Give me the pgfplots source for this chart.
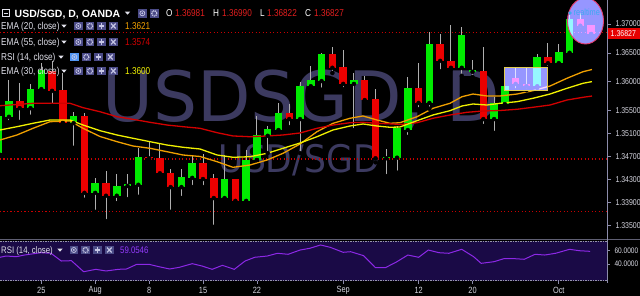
\documentclass[border=0pt]{standalone}
\usepackage{pgfplots}
\usepackage{pgfplotstable}
\pgfplotsset{compat=1.18}
\usepackage{fontspec}
\setmainfont{Liberation Sans}
\newfontfamily\nf[FakeStretch=0.82]{Liberation Sans}
\newfontfamily\wm{DejaVu Sans}

\definecolor{upgreen}{RGB}{0,235,0}
\definecolor{dnred}{RGB}{235,0,0}
\definecolor{wickgray}{RGB}{175,175,175}
\definecolor{emaA}{RGB}{240,160,0}
\definecolor{emaB}{RGB}{210,0,0}
\definecolor{emaC}{RGB}{240,240,0}
\definecolor{dotred}{RGB}{200,0,0}
\definecolor{wmcol}{RGB}{60,58,96}
\definecolor{axisgray}{RGB}{140,140,170}
\definecolor{lblgray}{RGB}{215,215,225}
\definecolor{txt}{RGB}{225,225,235}
\definecolor{iconbg}{RGB}{75,75,135}
\definecolor{icgly}{RGB}{200,200,230}
\definecolor{rsibg}{RGB}{26,10,70}
\definecolor{rsiline}{RGB}{140,40,230}
\definecolor{rsival}{RGB}{150,60,255}
\definecolor{ovl}{RGB}{150,150,255}
\definecolor{pricered}{RGB}{230,0,0}
\definecolor{valred}{RGB}{225,30,30}
\definecolor{sepgray}{RGB}{95,95,115}
\definecolor{dashgray}{RGB}{150,150,170}
\definecolor{boxyel}{RGB}{225,205,80}
\definecolor{ellpink}{RGB}{230,60,110}
\definecolor{rtcyan}{RGB}{60,170,240}
\definecolor{hlblue}{RGB}{80,150,245}

\pgfplotstableread{
i o h l c
0 1.3476 1.3546 1.3473 1.3540
1 1.3539 1.3603 1.3530 1.3566
3 1.3554 1.3596 1.3539 1.3587
4 1.3587 1.3632 1.3582 1.3620
7 1.3528 1.3547 1.3485 1.3540
9 1.3407 1.3433 1.3374 1.3424
11 1.3402 1.3440 1.3389 1.3419
12 1.3419 1.3440 1.3396 1.3422
13 1.3421 1.3485 1.3400 1.3469
17 1.3417 1.3448 1.3398 1.3435
18 1.3433 1.3473 1.3417 1.3459
21 1.3398 1.3473 1.3393 1.3431
23 1.3393 1.3481 1.3391 1.3464
24 1.3464 1.3540 1.3464 1.3507
25 1.3506 1.3523 1.3476 1.3518
26 1.3516 1.3563 1.3514 1.3546
28 1.3535 1.3599 1.3476 1.3592
29 1.3592 1.3627 1.3589 1.3603
30 1.3601 1.3650 1.3586 1.3648
33 1.3596 1.3615 1.3516 1.3603
36 1.3467 1.3483 1.3436 1.3469
37 1.3468 1.3523 1.3442 1.3520
38 1.3516 1.3608 1.3504 1.3589
40 1.3563 1.3686 1.3553 1.3665
43 1.3624 1.3695 1.3610 1.3681
44 1.3617 1.3638 1.3608 1.3620
46 1.3535 1.3573 1.3511 1.3563
47 1.3561 1.3603 1.3556 1.3592
50 1.3592 1.3648 1.3589 1.3643
52 1.3632 1.3665 1.3631 1.3651
53 1.3650 1.3716 1.3646 1.3709
}\up

\pgfplotstableread{
i o h l c
2 1.3566 1.3598 1.3530 1.3554
5 1.3618 1.3636 1.3558 1.3584
6 1.3586 1.3615 1.3528 1.3528
8 1.3540 1.3546 1.3395 1.3407
10 1.3424 1.3445 1.3358 1.3402
14 1.3469 1.3495 1.3464 1.3467
15 1.3467 1.3492 1.3438 1.3441
16 1.3441 1.3448 1.3374 1.3417
19 1.3459 1.3474 1.3417 1.3431
20 1.3433 1.3440 1.3348 1.3398
22 1.3431 1.3431 1.3389 1.3393
27 1.3546 1.3561 1.3521 1.3535
31 1.3648 1.3660 1.3615 1.3624
32 1.3625 1.3655 1.3587 1.3596
34 1.3603 1.3610 1.3563 1.3568
35 1.3570 1.3587 1.3460 1.3467
39 1.3589 1.3632 1.3552 1.3563
41 1.3665 1.3683 1.3618 1.3636
42 1.3636 1.3698 1.3622 1.3624
45 1.3618 1.3660 1.3523 1.3535
48 1.3606 1.3624 1.3585 1.3596
49 1.3596 1.3624 1.3585 1.3592
51 1.3643 1.3667 1.3624 1.3632
54 1.3709 1.3719 1.3690 1.3697
55 1.36981 1.36990 1.36822 1.36827
}\down

\pgfplotstableread{
x y
0.17 1.34987
1.74 1.35074
3.23 1.35190
4.81 1.35305
6.66 1.35317
7.87 1.35190
9.44 1.35048
11.02 1.34958
12.50 1.34883
14.08 1.34843
15.66 1.34784
17.14 1.34727
18.72 1.34701
20.30 1.34611
21.78 1.34513
23.36 1.34553
24.94 1.34640
26.42 1.34756
28.00 1.34918
29.57 1.35131
31.06 1.35277
32.63 1.35364
33.84 1.35404
35.14 1.35334
36.34 1.35277
37.27 1.35287
38.85 1.35391
40.33 1.35537
41.91 1.35624
43.02 1.35738
44.04 1.35785
45.34 1.35751
46.55 1.35751
48.13 1.35785
49.61 1.35843
51.19 1.35924
52.76 1.36058
54.25 1.36172
55.08 1.36210
}\emaTwenty

\pgfplotstableread{
x y
0.17 1.35582
2.02 1.35607
3.23 1.35624
4.81 1.35624
6.66 1.35624
7.87 1.35548
9.44 1.35478
11.02 1.35391
12.50 1.35346
14.08 1.35294
15.66 1.35247
17.14 1.35218
18.72 1.35190
20.30 1.35114
21.78 1.35057
23.36 1.35044
24.94 1.35057
26.42 1.35074
28.00 1.35109
29.57 1.35190
31.06 1.35247
32.63 1.35287
33.84 1.35294
35.14 1.35277
36.62 1.35265
37.27 1.35256
38.85 1.35287
40.33 1.35364
41.91 1.35421
43.49 1.35468
44.97 1.35490
46.55 1.35499
48.13 1.35520
49.61 1.35555
51.19 1.35594
52.76 1.35681
54.25 1.35728
55.08 1.35750
}\emaFiftyFive

\pgfplotstableread{
x y
0.17 1.35161
1.74 1.35218
3.23 1.35277
4.81 1.35334
6.66 1.35334
7.87 1.35247
9.44 1.35149
11.02 1.35074
12.50 1.35017
14.08 1.34958
15.66 1.34900
17.14 1.34861
18.72 1.34831
20.30 1.34727
21.78 1.34687
23.36 1.34697
24.94 1.34756
26.42 1.34843
28.00 1.34935
29.57 1.35044
31.06 1.35161
32.63 1.35230
33.84 1.35265
35.14 1.35230
36.34 1.35208
37.27 1.35213
38.85 1.35322
40.33 1.35421
41.91 1.35496
43.02 1.35577
44.04 1.35612
45.34 1.35594
46.55 1.35624
48.13 1.35652
49.61 1.35711
51.19 1.35785
52.76 1.35884
54.25 1.35971
55.08 1.36000
}\emaThirty

\pgfplotstableread{
x y
0.17 50.1
0.73 52.0
1.68 51.0
2.44 53.5
3.95 57.0
4.90 56.1
5.85 44.5
6.79 45.0
7.93 28.4
9.06 32.0
10.0 29.5
11.15 32.0
11.9 32.5
12.85 39.5
14.0 39.5
14.9 36.0
15.9 32.5
16.8 35.0
18.0 40.5
18.9 37.0
19.85 32.0
20.8 38.0
21.9 32.0
22.9 44.5
23.8 50.1
24.96 52.0
25.9 56.1
26.9 54.6
28.0 61.0
28.9 63.6
29.9 68.6
30.8 65.1
32.0 57.6
32.7 58.5
33.9 52.5
35.0 34.4
35.9 34.4
36.9 42.6
38.0 53.5
39.0 50.1
39.9 61.0
40.9 57.0
41.8 56.1
43.0 62.1
44.1 51.0
44.8 41.0
46.0 43.5
46.9 48.0
47.9 48.0
48.8 47.1
49.8 54.6
50.7 53.5
51.7 56.1
53.0 62.1
53.9 60.0
54.9 59.05
}\rsi

% icon helpers (pixel coordinates, y downwards)
\newcommand{\eyeicon}[3][iconbg]{%
  \fill[#1] (#2,#3-4.3) rectangle (#2+8.7,#3+4.3);
  \draw[icgly, line width=0.7pt] (#2+4.35,#3) circle (2.5);
  \fill[icgly] (#2+4.35,#3) circle (1.1);}
\newcommand{\gearicon}[2]{%
  \fill[iconbg] (#1,#2-4.3) rectangle (#1+8.7,#2+4.3);
  \draw[icgly, line width=1.3pt, dash pattern=on 1pt off 0.8pt] (#1+4.35,#2) circle (2.6);
  \fill[iconbg] (#1+4.35,#2) circle (1.1);}
\newcommand{\plusicon}[2]{%
  \fill[iconbg] (#1,#2-4.3) rectangle (#1+8.7,#2+4.3);
  \draw[icgly, line width=1.3pt] (#1+1.6,#2) -- (#1+7.1,#2) (#1+4.35,#2-2.75) -- (#1+4.35,#2+2.75);}
\newcommand{\crossicon}[2]{%
  \fill[iconbg] (#1,#2-4.3) rectangle (#1+8.7,#2+4.3);
  \draw[icgly, line width=1.2pt] (#1+2,#2-2.4) -- (#1+6.7,#2+2.4) (#1+2,#2+2.4) -- (#1+6.7,#2-2.4);}
\newcommand{\tri}[2]{\fill[txt] (#1-2.6,#2-1.3) -- (#1+2.6,#2-1.3) -- (#1,#2+1.7) -- cycle;}

\begin{document}
\begin{tikzpicture}
\useasboundingbox (0,0) rectangle (640pt,296pt);
\fill[black] (0,0) rectangle (640pt,296pt);

% watermarks
\begin{scope}[x=1pt,y=-1pt,shift={(0pt,296pt)}]
\node[anchor=base west, inner sep=0, text=wmcol, font=\wm\fontsize{69.5}{70}\selectfont] at (102,122) {USDSGD, D};
\node[anchor=base west, inner sep=0, text=wmcol, font=\wm\fontsize{38}{38}\selectfont] at (218.5,173) {\scalebox{0.91}[1]{USD/SGD}};
\end{scope}

% main price pane
\begin{axis}[
  at={(0pt,57pt)}, anchor=south west, scale only axis,
  width=607pt, height=239pt,
  xmin=0.167, xmax=56.475, ymin=1.332693, ymax=1.374165,
  clip=false,
  axis x line=none, axis y line*=right,
  y axis line style={draw=axisgray, line width=0.8pt},
  ytick={1.335,1.339,1.343,1.347,1.351,1.355,1.36,1.365,1.37},
  yticklabels={1.33500,1.33900,1.34300,1.34700,1.35100,1.35500,1.36000,1.36500,1.37000},
  tick align=outside, major tick length=4pt,
  ytick style={draw=axisgray, line width=0.6pt},
  yticklabel style={font=\nf\fontsize{8.5}{9}\selectfont, text=lblgray, xshift=1pt},
]
\addplot[dotred, line width=1.2pt, dash pattern=on 1.2pt off 2.3pt] coordinates {(0.167,1.36853) (56.4,1.36853)};
\addplot[dotred, line width=1.2pt, dash pattern=on 1.2pt off 2.3pt] coordinates {(0.167,1.34657) (56.4,1.34657)};
\addplot[dotred, line width=1.2pt, dash pattern=on 1.2pt off 2.3pt] coordinates {(0.167,1.33746) (56.4,1.33746)};
% wicks
\addplot[only marks, mark=none, error bars/.cd, y dir=plus, y explicit, error mark=none,
  error bar style={line width=1pt, draw=wickgray}] table[x=i, y=l, y error expr=\thisrow{h}-\thisrow{l}] {\up};
\addplot[only marks, mark=none, error bars/.cd, y dir=plus, y explicit, error mark=none,
  error bar style={line width=1pt, draw=wickgray}] table[x=i, y=l, y error expr=\thisrow{h}-\thisrow{l}] {\down};
% bodies
\addplot[only marks, mark=none, error bars/.cd, y dir=plus, y explicit, error mark=none,
  error bar style={line width=7.5pt, draw=upgreen}] table[x=i, y=o, y error expr=\thisrow{c}-\thisrow{o}] {\up};
\addplot[only marks, mark=none, error bars/.cd, y dir=plus, y explicit, error mark=none,
  error bar style={line width=7.5pt, draw=dnred}] table[x=i, y=c, y error expr=\thisrow{o}-\thisrow{c}] {\down};
% EMAs
\addplot[emaA, line width=1.3pt] table {\emaTwenty};
\addplot[emaB, line width=1.3pt] table {\emaFiftyFive};
\addplot[emaC, line width=1.3pt] table {\emaThirty};
\end{axis}

% RSI pane
\begin{axis}[
  at={(0pt,15.3pt)}, anchor=south west, scale only axis,
  width=607pt, height=39.7pt,
  xmin=0.167, xmax=56.475, ymin=14.9, ymax=74.6,
  clip=false,
  axis background/.style={fill=rsibg},
  axis x line*=bottom, axis y line*=right,
  x axis line style={draw=none},
  y axis line style={draw=axisgray, line width=0.8pt},
  xtick={4,9,14,19,24,32,39,44,52},
  xticklabels={25,Aug,8,15,22,Sep,12,20,Oct},
  ytick={40,60}, yticklabels={40.0000,60.0000},
  tick align=outside, major tick length=3pt,
  tick style={draw=axisgray, line width=0.6pt},
  xticklabel style={font=\nf\fontsize{9}{10}\selectfont, text=lblgray, anchor=center, yshift=-6.3pt},
  yticklabel style={font=\nf\fontsize{8}{9}\selectfont, text=lblgray, xshift=1pt},
]
\addplot[rsiline, line width=1pt] table {\rsi};
\end{axis}

\begin{scope}[x=1pt,y=-1pt,shift={(0pt,296pt)}]
% drawings on the chart
\fill[ovl, blend mode=screen] (504.3,67.3) rectangle (547.7,90.7);
\draw[boxyel, line width=0.9pt] (504.3,67.3) rectangle (547.7,90.7);
\fill[ovl, blend mode=screen] (585.5,21) ellipse [x radius=18, y radius=23];
\draw[ellpink, line width=0.9pt] (585.5,21) ellipse [x radius=18, y radius=23];
\fill[rtcyan] (570,13) circle (1.8);
% separators
\draw[sepgray, line width=1.5pt] (0,239.3) -- (640,239.3);
\draw[dashgray, line width=0.8pt, dash pattern=on 1.5pt off 1pt] (0,241.3) -- (607,241.3);
\draw[dashgray, line width=0.8pt, dash pattern=on 1.5pt off 1pt] (0,280.6) -- (607,280.6);
\draw[axisgray, line width=0.8pt] (607,238.5) -- (607,283);
% current price tag
\fill[pricered] (608,28.5) rectangle (640,39.5);
\node[anchor=west, inner sep=0, text=white, font=\nf\fontsize{8.5}{9}\selectfont] at (610.5,34) {1.36827};
% legend row 1
\draw[txt, line width=0.8pt] (2.5,9.5) rectangle (9.5,16.5);
\draw[txt, line width=0.8pt] (4.3,13) -- (7.7,13);
\node[anchor=base west, inner sep=0, text=white, font=\bfseries\fontsize{10.5}{11}\selectfont] at (14.5,17.2) {USD/SGD, D, OANDA};
\tri{127.5}{13}
\eyeicon{138}{13.3}
\gearicon{150}{13.3}
\begin{scope}[every node/.style={anchor=base west, inner sep=0, font=\nf\fontsize{10}{11}\selectfont}]
\node[text=white] at (166,17) {O};
\node[text=valred] at (175,17) {1.36981};
\node[text=white] at (213,17) {H};
\node[text=valred] at (222,17) {1.36990};
\node[text=white] at (260,17) {L};
\node[text=valred] at (267,17) {1.36822};
\node[text=white] at (305,17) {C};
\node[text=valred] at (314,17) {1.36827};
% rows 2-5
\node[text=txt] at (1,29.6) {EMA (20, close)};
\node[text=emaA] at (125,29.6) {1.3621};
\node[text=txt] at (1,45.6) {EMA (55, close)};
\node[text=emaB] at (125,45.6) {1.3574};
\node[text=txt] at (1,60.6) {RSI (14, close)};
\node[text=txt] at (1,74.6) {EMA (30, close)};
\node[text=emaC] at (125,74.6) {1.3600};
\node[text=rtcyan, font=\nf\fontsize{9}{9}\selectfont] at (573.5,16) {realtime};
\end{scope}
\tri{64}{26} \eyeicon{74}{26} \gearicon{85.7}{26} \plusicon{97.3}{26} \crossicon{109}{26}
\tri{64}{42} \eyeicon{74}{42} \gearicon{85.7}{42} \plusicon{97.3}{42} \crossicon{109}{42}
\tri{61}{57} \eyeicon[hlblue]{70}{57} \gearicon{82}{57} \plusicon{94}{57} \crossicon{106}{57}
\tri{64}{71} \eyeicon{74}{71} \gearicon{85.7}{71} \plusicon{97.3}{71} \crossicon{109}{71}
% RSI legend
\node[anchor=base west, inner sep=0, text=txt, font=\nf\fontsize{9.5}{10}\selectfont] at (1,253.6) {RSI (14, close)};
\tri{60}{250}
\eyeicon{69.5}{250} \gearicon{81.3}{250} \plusicon{93.1}{250} \crossicon{105}{250}
\node[anchor=base west, inner sep=0, text=rsival, font=\nf\fontsize{9.5}{10}\selectfont] at (120,253.6) {59.0546};
\end{scope}
\end{tikzpicture}
\end{document}
